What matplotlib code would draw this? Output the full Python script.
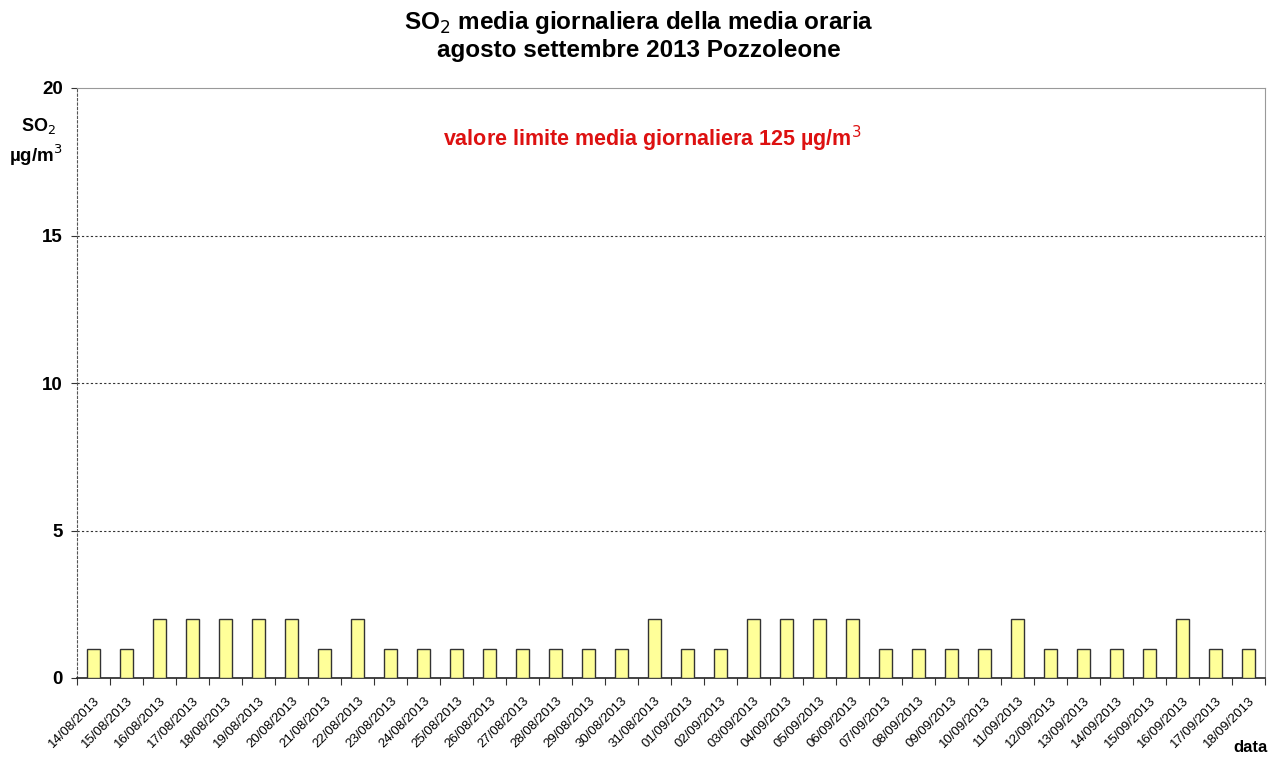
import matplotlib
matplotlib.use("Agg")
import matplotlib.pyplot as plt
import numpy as np

plt.rcParams['font.family'] = ['Liberation Sans', 'DejaVu Sans']

dates = ["14/08/2013", "15/08/2013", "16/08/2013", "17/08/2013", "18/08/2013",
         "19/08/2013", "20/08/2013", "21/08/2013", "22/08/2013", "23/08/2013",
         "24/08/2013", "25/08/2013", "26/08/2013", "27/08/2013", "28/08/2013",
         "29/08/2013", "30/08/2013", "31/08/2013", "01/09/2013", "02/09/2013",
         "03/09/2013", "04/09/2013", "05/09/2013", "06/09/2013", "07/09/2013",
         "08/09/2013", "09/09/2013", "10/09/2013", "11/09/2013", "12/09/2013",
         "13/09/2013", "14/09/2013", "15/09/2013", "16/09/2013", "17/09/2013",
         "18/09/2013"]
so2 = [1, 1, 2, 2, 2, 2, 2, 1, 2, 1, 1, 1, 1, 1, 1, 1, 1, 2, 1, 1,
       2, 2, 2, 2, 1, 1, 1, 1, 2, 1, 1, 1, 1, 2, 1, 1]
yticks = [0, 5, 10, 15, 20]

fig = plt.figure(figsize=(12.78, 7.58), dpi=100)
ax = fig.add_axes([77/1278, 80/758, (1265-77)/1278, (678-88)/758])

x = np.arange(len(dates))
ax.bar(x, so2, width=0.4, color="#ffff99", edgecolor="#333333", linewidth=1.0, zorder=3)

ax.set_xlim(-0.5, len(dates) - 0.5)
ax.set_ylim(0, 20)
ax.set_yticks(yticks)
ax.set_yticklabels([str(v) for v in yticks], fontsize=13.5, fontweight='bold')
for v in yticks[1:4]:
    ax.axhline(v, color="#333333", linestyle=(0, (2, 2)), linewidth=0.8, zorder=1)

# category boundary ticks
ax.set_xticks(np.arange(len(dates) + 1) - 0.5, minor=False)
ax.set_xticklabels([])
ax.set_xticks(x, minor=True)
ax.set_xticklabels(dates, minor=True, rotation=45, ha='right', rotation_mode='anchor', fontsize=9.5)
ax.tick_params(axis='x', which='major', direction='out', length=5, color="#333333")
ax.tick_params(axis='x', which='minor', length=0, pad=12)
ax.tick_params(axis='y', direction='out', length=4, color="#333333", pad=6)

ax.spines['left'].set_linestyle((0, (2, 2)))
ax.spines['left'].set_color("#555555")
ax.spines['top'].set_color("#999999")
ax.spines['right'].set_color("#999999")
ax.spines['bottom'].set_color("#222222")
ax.spines['bottom'].set_linewidth(1.2)

fig.text(0.5, 1 - 22/758, "SO$_2$ media giornaliera della media oraria", ha='center', va='center',
         fontsize=17.5, fontweight='bold')
fig.text(0.5, 1 - 51/758, "agosto settembre 2013 Pozzoleone", ha='center', va='center',
         fontsize=17.5, fontweight='bold')
fig.text(38/1278, 1 - 126/758, "SO$_2$", ha='center', va='center', fontsize=13, fontweight='bold')
fig.text(36/1278, 1 - 155/758, "µg/m$^3$", ha='center', va='center', fontsize=13.5, fontweight='bold')
fig.text(652/1278, 1 - 139/758, "valore limite media giornaliera 125 µg/m$^3$", ha='center', va='center',
         fontsize=15.5, fontweight='bold', color="#dd1111")
fig.text(1250/1278, 1 - 748/758, "data", ha='center', va='center', fontsize=12, fontweight='bold')

fig.savefig("out.png", dpi=100)
